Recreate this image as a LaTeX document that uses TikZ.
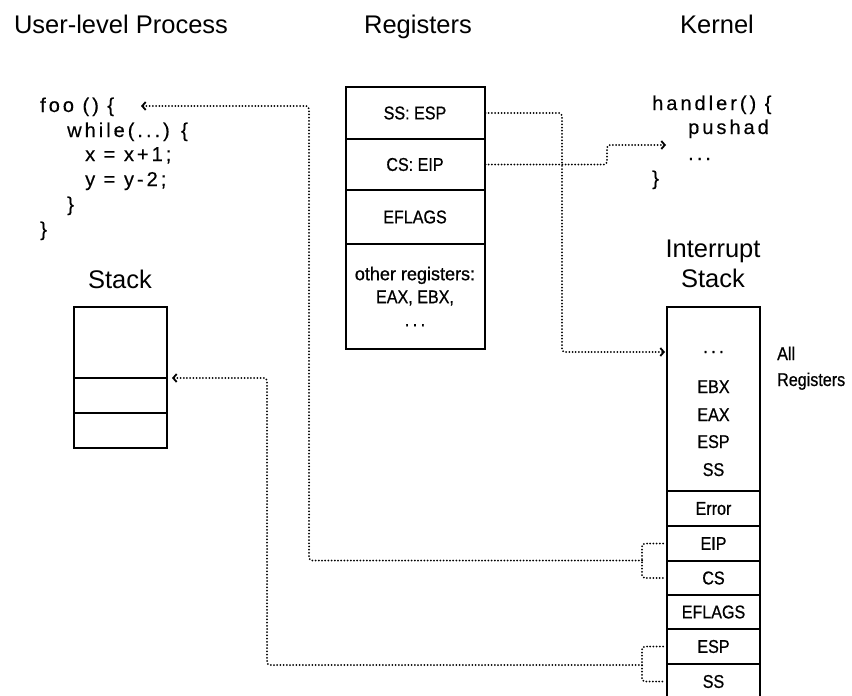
\documentclass[tikz,border=0pt]{standalone}
\usepackage{fontspec}
\setmainfont{Liberation Sans}
\newfontfamily\ttlfont{Liberation Sans}
\newfontfamily\cndfont[FakeStretch=0.87,FakeBold=0.7]{Liberation Sans}
\newfontfamily\cdfont[LetterSpace=15,FakeBold=0.4]{Liberation Sans}
\usetikzlibrary{arrows.meta}
\newcommand{\tdots}{.\hspace{3.5pt}.\hspace{3.5pt}.}
\begin{document}
\begin{tikzpicture}[x=1pt,y=-1pt,
 ttl/.style={font=\ttlfont\fontsize{25.5}{30}\selectfont, inner sep=0pt, anchor=base},
 codeln/.style={font=\cdfont\fontsize{20}{24}\selectfont, inner sep=0pt, anchor=base west},
 cell/.style={draw, line width=2pt, minimum width=93pt, inner sep=0pt, align=center, font=\cndfont\fontsize{18.5}{23}\selectfont},
 lbl/.style={font=\cndfont\fontsize{18.5}{26}\selectfont, inner sep=0pt, anchor=base},
 dotline/.style={line width=2pt, line cap=round, dash pattern=on 0pt off 3.2pt, rounded corners=3pt},
 tip/.style={-{Straight Barb[length=3.5pt,width=8pt,line width=1.8pt]}},
]
\useasboundingbox (0,0) rectangle (852,696);

% titles
\node[ttl] (tuser) at (121,34) {User-level Process};
\node[ttl] (treg) at (418,34) {Registers};
\node[ttl] (tker) at (717,34) {Kernel};
\node[ttl] (tstack) at (120,288) {Stack};
\node[ttl, align=center] (tistack) at (713,287) {Interrupt\\Stack};

% user code
\node[codeln] (code1) at (40,112) {foo () \{};
\node[codeln] (code2) at (67,137) {while(...) \{};
\node[codeln] (code3) at (85,161) {x = x+1;};
\node[codeln] (code4) at (85,186) {y = y-2;};
\node[codeln] (code5) at (67,211) {\}};
\node[codeln] (code6) at (40,236) {\}};

% kernel code
\node[codeln] (k1) at (652,110) {handler() \{};
\node[codeln] (k2) at (688,134) {pushad};
\node[codeln] (k3) at (688,160) {...};
\node[codeln] (k4) at (652,185) {\}};

% registers
\node[cell, minimum width=139pt, minimum height=52pt] (ssesp) at (415,113) {SS: ESP};
\node[cell, minimum width=139pt, minimum height=51pt] (cseip) at (415,164.5) {CS: EIP};
\node[cell, minimum width=139pt, minimum height=54pt] (regefl) at (415,217) {EFLAGS};
\node[cell, minimum width=139pt, minimum height=105pt] (regoth) at (415,296.5) {\scalebox{1.12}[1]{other registers:}\\EAX, EBX,\\\tdots};

% user stack
\node[cell, minimum height=71pt] (st1) at (120.5,342.5) {};
\node[cell, minimum height=35pt] (st2) at (120.5,395.5) {};
\node[cell, minimum height=35pt] (st3) at (120.5,430.5) {};

% interrupt stack
\node[cell, minimum height=184pt] (istop) at (713.5,399) {};
\node[cell, minimum height=35pt] (ierr) at (713.5,508.5) {Error};
\node[cell, minimum height=35pt] (ieip) at (713.5,543.5) {EIP};
\node[cell, minimum height=34pt] (ics) at (713.5,578) {CS};
\node[cell, minimum height=34pt] (iefl) at (713.5,612) {EFLAGS};
\node[cell, minimum height=35pt] (iesp) at (713.5,646.5) {ESP};
\node[cell, minimum height=35pt] (iss) at (713.5,681.5) {SS};

\node[lbl] (idots) at (713.5,353) {\tdots};
\node[lbl] (iebx) at (713.5,393) {EBX};
\node[lbl] (ieax) at (713.5,421) {EAX};
\node[lbl] (iespl) at (713.5,448) {ESP};
\node[lbl] (issl) at (713.5,476) {SS};
\node[lbl, anchor=base west, align=left] (allreg) at (777,386) {All\\Registers};

% connector end points
\coordinate (allin) at (665,352);
\coordinate (hin) at (666,145);
\coordinate (fooin) at (141,106);
\coordinate (stin) at (172,378);
\coordinate (br1) at (642,560.5);
\coordinate (br2) at (642,665);

% registers -> interrupt stack / handler
\draw[dotline, tip] (ssesp.east) -- (562,113) |- (allin);
\draw[dotline, tip] (cseip.east) -- (607,164.5) |- (hin);

% brackets on interrupt stack
\draw[dotline, shorten <=3pt, shorten >=3pt] (ieip.west) -- (642,543.5) -- (642,578) -- (ics.west);
\draw[dotline, shorten <=3pt, shorten >=3pt] (iesp.west) -- (642,646.5) -- (642,681.5) -- (iss.west);

% back to user code and user stack
\draw[dotline, tip] (br1) -- (309,560.5) |- (fooin);
\draw[dotline, tip] (br2) -- (267,665) |- (stin);
\end{tikzpicture}
\end{document}
